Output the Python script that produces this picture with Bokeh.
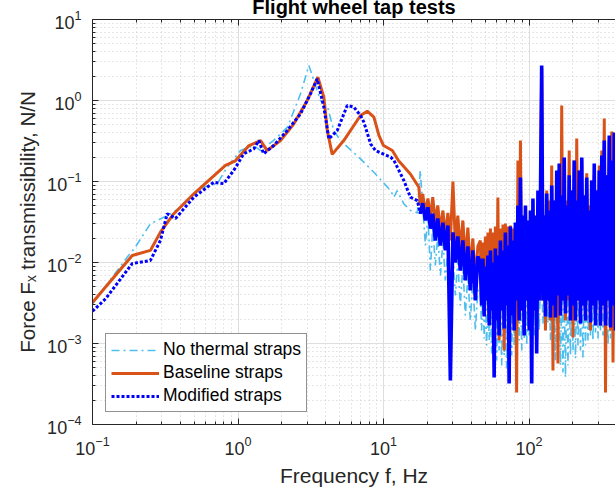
from bokeh.plotting import figure
from bokeh.models import (LogAxis, FixedTicker, Legend, LegendItem, Range1d,
                          LogTickFormatter, CustomJSTickFormatter)
from bokeh.embed import file_html
from bokeh.resources import INLINE

TITLE = "Flight wheel tap tests"
X_LABEL = "Frequency f, Hz"
Y_LABEL = "Force F\u2093 transmissibility, N/N"
SERIES = ["No thermal straps", "Baseline straps", "Modified straps"]
X_TICKS = [0.1, 1, 10, 100]
Y_TICKS = [1e-4, 1e-3, 1e-2, 1e-1, 1, 10]

# ---- smooth low-frequency parts (Hz, N/N) ----
F_NOTH_LO = [0.1, 0.173, 0.197, 0.25, 0.344, 0.403, 0.497, 0.579, 0.719, 0.843,
             1.04, 1.28, 1.43, 1.75, 2.19, 2.69, 3.07, 3.32, 3.69, 4.10,
             4.55, 5.06, 6.95, 8.59, 11.2, 11.8, 12.4, 13.8, 15.3, 17.1]
V_NOTH_LO = [0.0031, 0.0116, 0.0155, 0.030, 0.040, 0.048, 0.0705, 0.085, 0.094, 0.15,
             0.241, 0.278, 0.241, 0.32, 0.47, 1.21, 2.7, 1.77, 1.0, 0.868,
             0.426, 0.32, 0.19, 0.13, 0.077, 0.064, 0.077, 0.053, 0.044, 0.041]

F_BASE_LO = [0.1, 0.1875, 0.25, 0.293, 0.362, 0.497, 0.647, 0.82, 0.96, 1.19,
             1.43, 1.585, 1.96, 2.42, 2.99, 3.54, 3.89, 4.11, 4.44, 5.33,
             6.95, 7.73, 8.59, 9.3, 10.0, 11.5, 12.7, 15.3, 17.5]
V_BASE_LO = [0.0032, 0.0122, 0.0141, 0.0237, 0.040, 0.0705, 0.108, 0.158, 0.18, 0.278,
             0.32, 0.241, 0.32, 0.515, 1.0, 1.94, 1.1, 0.426, 0.216, 0.32,
             0.653, 0.738, 0.622, 0.37, 0.278, 0.241, 0.18, 0.124, 0.085]

F_MOD_LO = [0.1, 0.1229, 0.1875, 0.25, 0.293, 0.326, 0.372, 0.497, 0.614, 0.682,
            0.798, 0.935, 1.096, 1.284, 1.39, 1.50, 1.76, 2.18, 2.69, 3.15,
            3.50, 3.89, 4.21, 4.81, 5.63, 6.25, 6.95, 7.33, 8.15, 8.81,
            11.2, 11.8, 13.8, 15.3, 17.1]
V_MOD_LO = [0.0025, 0.00356, 0.0097, 0.0106, 0.0187, 0.040, 0.0349, 0.064, 0.085, 0.098,
            0.094, 0.137, 0.22, 0.253, 0.32, 0.22, 0.278, 0.426, 0.685, 1.21,
            1.85, 0.83, 0.336, 0.426, 0.868, 0.83, 0.653, 0.54, 0.292, 0.241,
            0.20, 0.182, 0.103, 0.064, 0.058]

# ---- noisy 18-45 Hz part (shared frequency samples, Hz) ----
F_MID = [17.9, 18.6, 19.4, 20.2, 21.0, 21.8, 22.7, 23.6, 24.6, 25.6,
         26.6, 27.7, 28.8, 30.0, 31.2, 32.4, 33.7, 35.1, 36.5, 38.0,
         39.5, 41.1, 42.8, 44.5]
V_NOTH_MID = [0.137, 0.0506, 0.0162, 0.038, 0.00796, 0.0286, 0.00918, 0.0216, 0.00691, 0.0187,
              0.0060, 0.0141, 0.00451, 0.0122, 0.00392, 0.0106, 0.00294, 0.00918, 0.00222, 0.00691,
              0.00192, 0.0060, 0.00145, 0.00451]
V_BASE_MID = [0.0506, 0.0704, 0.041, 0.0618, 0.035, 0.064, 0.031, 0.0506, 0.0248, 0.0438,
              0.0216, 0.041, 0.0187, 0.10, 0.0162, 0.038, 0.0141, 0.033, 0.0106, 0.027,
              0.00796, 0.0198, 0.0060, 0.0158]
V_MOD_MID = [0.040, 0.054, 0.033, 0.048, 0.0262, 0.040, 0.0187, 0.035, 0.0162, 0.031,
             0.0141, 0.0286, 0.00035, 0.0236, 0.0100, 0.021, 0.00796, 0.0187, 0.0060, 0.0158,
             0.00451, 0.0141, 0.0034, 0.0119]

# ---- densely oscillating 46-393 Hz part (shared frequency samples, Hz) ----
F_HI = [46.3, 47.2, 48.2, 49.2, 50.1, 51.1, 52.2, 53.3, 54.3, 55.4,
        56.5, 57.6, 58.7, 59.9, 61.1, 62.3, 63.6, 64.9, 66.2, 67.5,
        68.8, 70.2, 71.6, 73.0, 74.5, 76.0, 77.5, 79.1, 80.6, 82.2,
        83.9, 85.6, 87.3, 89.1, 90.8, 92.6, 94.5, 96.4, 98.3, 100.3,
        102.3, 104.4, 106.4, 108.5, 110.7, 112.9, 115.2, 117.5, 119.8, 122.2,
        124.7, 127.2, 129.7, 132.3, 134.9, 137.6, 140.4, 143.2, 146.1, 149.0,
        152.0, 155.1, 158.1, 161.3, 164.5, 167.8, 171.1, 174.6, 178.0, 181.6,
        185.2, 188.9, 192.7, 196.6, 200.5, 204.5, 208.6, 212.8, 217.0, 221.4,
        225.8, 230.4, 234.9, 239.6, 244.4, 249.3, 254.3, 259.4, 264.5, 269.8,
        275.2, 280.8, 286.4, 292.2, 297.9, 303.9, 310.0, 316.3, 322.5, 329.0,
        335.5, 342.3, 349.1, 356.1, 363.2, 370.5, 377.8, 385.6, 393.1]

V_NOTH_HI = [0.00451, 0.00145, 0.00426, 0.00115, 0.00477, 0.000945, 0.00392, 0.00109, 0.00359, 0.000753,
             0.00392, 0.000945, 0.00340, 0.000617, 0.00426, 0.000820, 0.00380, 0.000535, 0.00451, 0.000711,
             0.00414, 0.000491, 0.00477, 0.000820, 0.00451, 0.000711, 0.00520, 0.000945, 0.00451, 0.000775,
             0.00520, 0.00109, 0.00477, 0.000820, 0.00566, 0.00115, 0.00477, 0.000945, 0.00535, 0.00126,
             0.00505, 0.000867, 0.00600, 0.00126, 0.00520, 0.00109, 0.00566, 0.00145, 0.00600, 0.00600,
             0.00177, 0.00520, 0.00145, 0.00600, 0.00177, 0.00520, 0.00109, 0.00600, 0.000820, 0.00520,
             0.000617, 0.00566, 0.000820, 0.00477, 0.000535, 0.00535, 0.000438, 0.00477, 0.000380, 0.00566,
             0.000535, 0.00505, 0.000711, 0.00600, 0.000820, 0.00520, 0.000653, 0.00566, 0.000945, 0.00505,
             0.000820, 0.00600, 0.000672, 0.00520, 0.000945, 0.00566, 0.00109, 0.00505, 0.00126, 0.00600,
             0.00109, 0.00520, 0.00137, 0.00566, 0.00115, 0.00505, 0.00145, 0.00600, 0.00126, 0.00535,
             0.00109, 0.00566, 0.000945, 0.00520, 0.00115, 0.00566, 0.000945, 0.00505, 0.00109]

V_BASE_HI = [0.0187, 0.00340, 0.0177, 0.00255, 0.0209, 0.00340, 0.0234, 0.00192, 0.0263, 0.00255,
             0.0234, 0.00145, 0.0278, 0.00192, 0.0634, 0.00109, 0.0263, 0.00255, 0.0294, 0.000820,
             0.0303, 0.00294, 0.0278, 0.00145, 0.0286, 0.00255, 0.0263, 0.00145, 0.0248, 0.000248,
             0.182, 0.00192, 0.321, 0.00255, 0.0286, 0.00145, 0.0330, 0.00340, 0.0248, 0.00192,
             0.0263, 0.00145, 0.0234, 0.00255, 0.0330, 0.00109, 0.0438, 0.00340, 0.0506, 2.48,
             0.00340, 0.0380, 0.00145, 0.0774, 0.00340, 0.0582, 0.00192, 0.158, 0.000464, 0.0582,
             0.00209, 0.119, 0.000566, 0.137, 0.00222, 0.868, 0.00340, 0.182, 0.00192, 0.0582,
             0.00340, 0.241, 0.00192, 0.0774, 0.00119, 0.182, 0.00192, 0.340, 0.00340, 0.137,
             0.00192, 0.182, 0.00294, 0.0671, 0.00192, 0.126, 0.00340, 0.0506, 0.00145, 0.103,
             0.00294, 0.119, 0.00192, 0.0774, 0.00340, 0.158, 0.00167, 0.241, 0.00294, 0.600,
             0.000248, 0.119, 0.00340, 0.321, 0.00145, 0.414, 0.000582, 0.241, 0.00145]

V_MOD_HI = [0.0100, 0.00294, 0.0112, 0.00215, 0.00893, 0.00340, 0.0122, 0.00167, 0.0141, 0.00255,
            0.0100, 0.000380, 0.0149, 0.00192, 0.0122, 0.00126, 0.0187, 0.00255, 0.0141, 0.00153,
            0.0234, 0.00294, 0.0162, 0.000321, 0.0278, 0.00222, 0.0187, 0.00145, 0.0312, 0.00340,
            0.0506, 0.00192, 0.112, 0.00255, 0.0380, 0.00126, 0.0506, 0.00340, 0.0330, 0.00145,
            0.0438, 0.000321, 0.0617, 0.00255, 0.0380, 0.000753, 0.0774, 0.00340, 0.0582, 2.70,
            0.00340, 0.0380, 0.00215, 0.0711, 0.00340, 0.0438, 0.00209, 0.0893, 0.00294, 0.0582,
            0.00209, 0.137, 0.00392, 0.167, 0.00222, 0.0671, 0.00340, 0.198, 0.00234, 0.0506,
            0.00392, 0.119, 0.00192, 0.0774, 0.00294, 0.182, 0.00192, 0.0582, 0.00340, 0.137,
            0.00177, 0.198, 0.00294, 0.0671, 0.00192, 0.112, 0.00340, 0.0438, 0.00182, 0.103,
            0.00294, 0.167, 0.00167, 0.0774, 0.00340, 0.137, 0.00167, 0.209, 0.00294, 0.321,
            0.00167, 0.119, 0.00340, 0.370, 0.00158, 0.182, 0.00294, 0.403, 0.00145]


def joined(*pairs):
    fs, vs = [], []
    for f, v in pairs:
        n = min(len(f), len(v))
        fs += list(f[:n])
        vs += list(v[:n])
    return fs, vs


F_NOTH, V_NOTH = joined((F_NOTH_LO, V_NOTH_LO), (F_MID, V_NOTH_MID), (F_HI, V_NOTH_HI))
F_BASE, V_BASE = joined((F_BASE_LO, V_BASE_LO), (F_MID, V_BASE_MID), (F_HI, V_BASE_HI))
F_MOD_A, V_MOD_A = joined((F_MOD_LO, V_MOD_LO), (F_MID[:1], V_MOD_MID[:1]))
F_MOD_B, V_MOD_B = joined((F_MID, V_MOD_MID), (F_HI, V_MOD_HI))

FONT = "Liberation Sans"
INK = "#262626"
TOP_CUT = 14  # the reference crops the top of the title off the window

p = figure(width=615, height=489 + TOP_CUT, x_axis_type="log", y_axis_type="log",
           x_range=Range1d(0.1, 393), y_range=Range1d(1e-4, 10),
           output_backend="svg", toolbar_location=None,
           min_border_left=92, min_border_right=0, min_border_top=19 + TOP_CUT,
           min_border_bottom=65)
p.margin = (-TOP_CUT, 0, 0, 0)
p.outline_line_color = None
p.background_fill_color = "white"
p.border_fill_color = "white"

p.title.text = TITLE
p.title.align = "center"
p.title.text_font = FONT
p.title.text_font_size = "20px"
p.title.text_font_style = "bold"
p.title.text_color = "black"
p.title.text_line_height = 0.5
p.title.standoff = 3

xb = p.below[0]
yl = p.left[0]

x_minor = [m * 10.0 ** e for e in range(-1, 3) for m in range(2, 10)]
y_minor = [m * 10.0 ** e for e in range(-4, 1) for m in range(2, 10)]
xt = FixedTicker(ticks=X_TICKS, minor_ticks=x_minor)
yt = FixedTicker(ticks=Y_TICKS, minor_ticks=y_minor)

top = LogAxis(ticker=FixedTicker(ticks=X_TICKS, minor_ticks=x_minor),
              formatter=CustomJSTickFormatter(code="return ''"))
top.major_label_text_font_size = "0px"
top.major_label_standoff = 0
p.add_layout(top, "above")

xb.ticker = xt
yl.ticker = yt
p.xgrid.ticker = xt
p.ygrid.ticker = yt

for ax in [xb, yl, top]:
    ax.major_tick_in = 6
    ax.major_tick_out = 0
    ax.minor_tick_in = 3
    ax.minor_tick_out = 0
    ax.axis_line_color = INK
    ax.major_tick_line_color = INK
    ax.minor_tick_line_color = INK
for ax in [xb, yl]:
    ax.formatter = LogTickFormatter()
    ax.major_label_text_font = FONT
    ax.major_label_text_font_size = "18px"
    ax.major_label_text_color = INK
    ax.axis_label_text_font = FONT
    ax.axis_label_text_font_style = "normal"
    ax.axis_label_text_color = INK
xb.axis_label = X_LABEL
yl.axis_label = Y_LABEL
xb.axis_label_text_font_size = "21px"
yl.axis_label_text_font_size = "20.5px"
xb.major_label_standoff = 11
xb.axis_label_standoff = 6
yl.major_label_standoff = 11
yl.axis_label_standoff = 5

for g in [p.xgrid[0], p.ygrid[0]]:
    g.grid_line_color = "#dedede"
    g.grid_line_width = 1
    g.minor_grid_line_color = "#cccccc"
    g.minor_grid_line_dash = "1 3"

r1 = p.line(F_NOTH, V_NOTH, line_color="#4DBEEE", line_width=1.6, line_dash="8 4 2 4")
r2 = p.line(F_BASE, V_BASE, line_color="#D95319", line_width=3)
r3 = p.line(F_MOD_A, V_MOD_A, line_color="#0000FF", line_width=3, line_dash="3 2")
r3b = p.line(F_MOD_B, V_MOD_B, line_color="#0000FF", line_width=3.6)

legend = Legend(items=[LegendItem(label=SERIES[0], renderers=[r1]),
                       LegendItem(label=SERIES[1], renderers=[r2]),
                       LegendItem(label=SERIES[2], renderers=[r3])],
                location=(13, 12))
legend.margin = 0
legend.padding = 5
legend.spacing = 2
legend.glyph_width = 48
legend.glyph_height = 20
legend.label_height = 20
legend.label_standoff = 4
legend.label_text_font = FONT
legend.label_text_font_size = "17.5px"
legend.label_text_color = "black"
legend.border_line_color = INK
legend.border_line_width = 1
legend.background_fill_color = "white"
legend.background_fill_alpha = 1.0
p.add_layout(legend)

open("out.html", "w").write(file_html(p, INLINE))
